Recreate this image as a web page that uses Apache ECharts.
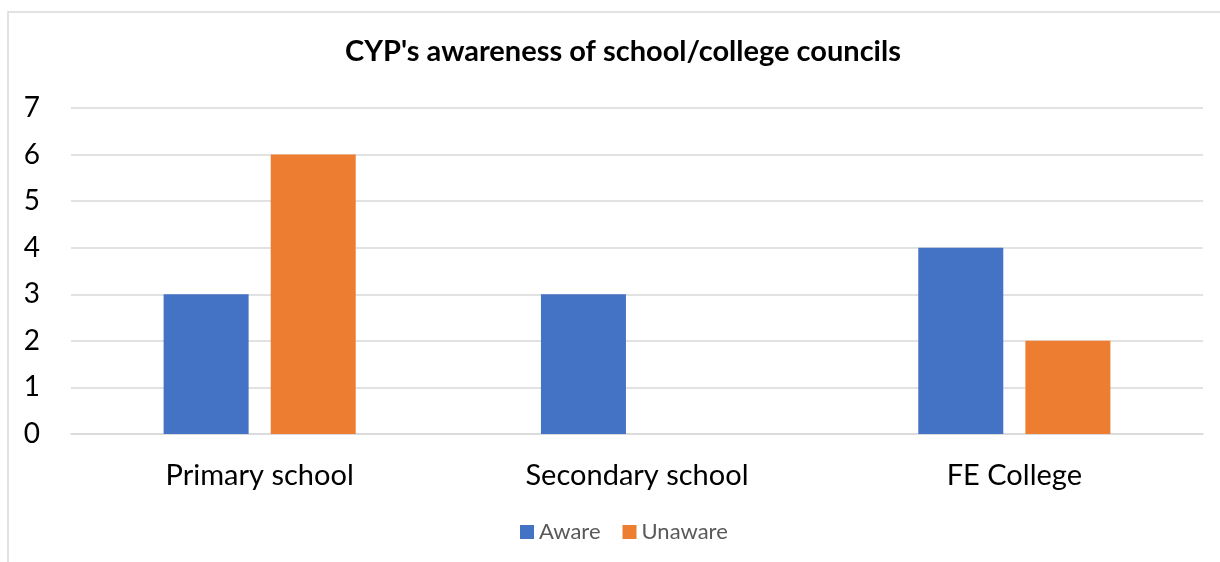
<!DOCTYPE html>
<html>
<head>
<meta charset="utf-8">
<script src="https://cdn.jsdelivr.net/npm/echarts@6/dist/echarts.min.js"></script>
<style>
html,body{margin:0;padding:0;background:#fff;}
#chart{width:1220px;height:562px;}
</style>
</head>
<body>
<div id="chart"></div>
<script>
const titleText = "CYP's awareness of school/college councils";
const categories = ["Primary school", "Secondary school", "FE College"];
const seriesNames = ["Aware", "Unaware"];
const awareValues = [3, 3, 4];
const unawareValues = [6, 0, 2];
const yTicks = [0, 1, 2, 3, 4, 5, 6, 7];

const FONT = "Lato, 'Open Sans', sans-serif";
const chart = echarts.init(document.getElementById('chart'), null, {renderer: 'canvas'});
chart.setOption({
  animation: false,
  backgroundColor: '#ffffff',
  graphic: [{
    type: 'rect',
    shape: {x: 8, y: 12, width: 1400, height: 700},
    style: {fill: 'none', stroke: '#D9D9D9', lineWidth: 1.5},
    silent: true,
    z: -1
  }],
  title: {
    text: titleText,
    left: 618,
    textAlign: 'center',
    top: 32,
    textStyle: {fontFamily: FONT, fontSize: 29, fontWeight: 'bold', color: '#000'}
  },
  legend: {
    data: seriesNames,
    top: 516,
    left: 515,
    itemWidth: 14,
    itemHeight: 14,
    itemGap: 22,
    icon: 'rect',
    textStyle: {fontFamily: FONT, fontSize: 22, color: '#595959'}
  },
  grid: {left: 71, right: 17, top: 108, bottom: 128, containLabel: false},
  xAxis: {
    type: 'category',
    data: categories,
    axisLine: {show: true, lineStyle: {color: '#D9D9D9', width: 1.5}},
    axisTick: {show: false},
    axisLabel: {fontFamily: FONT, fontSize: 29, color: '#000', margin: 27}
  },
  yAxis: {
    type: 'value',
    min: yTicks[0],
    max: yTicks[yTicks.length - 1],
    interval: 1,
    axisLine: {show: false},
    axisTick: {show: false},
    splitLine: {lineStyle: {color: '#D9D9D9', width: 1.5}},
    axisLabel: {fontFamily: FONT, fontSize: 28, color: '#000', margin: 31, align: 'right'}
  },
  series: [
    {name: seriesNames[0], type: 'bar', data: awareValues, barWidth: 85, barGap: '26%', itemStyle: {color: '#4472C4'}},
    {name: seriesNames[1], type: 'bar', data: unawareValues, barWidth: 85, barGap: '26%', itemStyle: {color: '#ED7D31'}}
  ]
});
</script>
</body>
</html>
